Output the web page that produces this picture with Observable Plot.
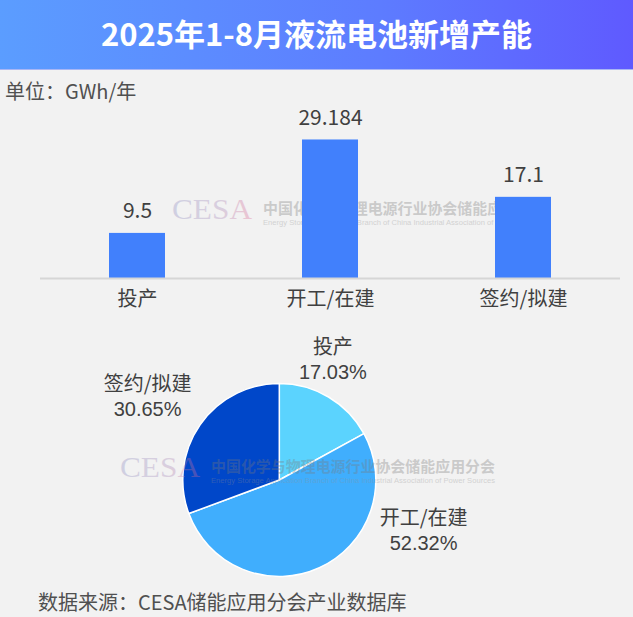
<!DOCTYPE html>
<html>
<head>
<meta charset="utf-8">
<script src="https://cdn.jsdelivr.net/npm/d3@7"></script>
<script src="https://cdn.jsdelivr.net/npm/@observablehq/plot@0.6"></script>
<style>
  html, body { margin: 0; padding: 0; background: #f2f2f2; }
  #root { position: relative; width: 633px; height: 617px; overflow: hidden; background: #f2f2f2;
    font-family: "Noto Sans CJK SC", "Noto Sans", sans-serif; color: #404040; }
  #title { position: absolute; left: 0; top: 0; width: 633px; height: 69px;
    background: linear-gradient(90deg, #5b9dff 0%, #5d7cff 60%, #5f5aff 100%);
    color: #fff; font-weight: bold; font-size: 31px; line-height: 66px; text-align: center;
    box-shadow: 0 1px 0 #a9b6f5; }
  #unit { position: absolute; left: 5px; top: 78px; font-size: 20px; line-height: 26px; color: #505050; }
  #footer { position: absolute; left: 38px; top: 588px; font-size: 20px; line-height: 28px; color: #505050; }
  .abs { position: absolute; left: 0; }
  svg { overflow: visible; }
</style>
</head>
<body>
<div id="root">
  <div id="title">2025年1-8月液流电池新增产能</div>
  <div id="unit">单位：GWh/年</div>
  <div id="wm1" class="abs" style="top:0;z-index:1"></div>
  <div id="bars" class="abs" style="top:100px;z-index:2"></div>
  <div id="pie" class="abs" style="top:320px;z-index:3"></div>
  <div id="wm2" class="abs" style="top:0;z-index:4"></div>
  <div id="footer">数据来源：CESA储能应用分会产业数据库</div>
</div>
<script>
// ---- data ----
const categories = ["投产", "开工/在建", "签约/拟建"];
const capacity = [9.5, 29.184, 17.1];          // GWh/年
const capacityLabels = ["9.5", "29.184", "17.1"];
const pieColors = ["#5bd3fe", "#40aefd", "#0047c9"];
const barColor = "#4180fc";

const rows = categories.map((c, i) => ({category: c, value: capacity[i], label: capacityLabels[i], color: pieColors[i]}));
const total = d3.sum(capacity);

// ---- bar chart ----
const barPlot = Plot.plot({
  width: 633, height: 220,
  marginLeft: 40, marginRight: 13, marginTop: 0, marginBottom: 42,
  style: {background: "transparent", fontFamily: "'Noto Sans CJK SC', 'Noto Sans', sans-serif", overflow: "visible"},
  x: {domain: categories, paddingInner: 0.71, paddingOuter: 0.355, axis: null},
  y: {domain: [0, 37.5], axis: null},
  marks: [
    Plot.barY(rows, {x: "category", y: "value", fill: barColor}),
    Plot.ruleY([0], {stroke: "#d6d6d6", strokeWidth: 2}),
    Plot.text(rows, {x: "category", y: "value", text: "label", dy: -22, fontSize: 21, fill: "#404040"}),
    Plot.text(rows, {x: "category", frameAnchor: "bottom", text: "category", dy: 27, fontSize: 20, fill: "#404040"})
  ]
});
document.getElementById("bars").appendChild(barPlot);

// ---- pie chart ----
// label placement for each slice, in units of the pie radius (layout, not data)
const pieLabelAnchor = {"投产": [0.55, 1.25], "开工/在建": [1.49, -0.52], "签约/拟建": [-1.37, 0.86]};
const arcs = d3.pie().sort(null).value(d => d.value)(rows);
const pieLabels = rows.map(r => ({
  px: pieLabelAnchor[r.category][0], py: pieLabelAnchor[r.category][1],
  name: r.category,
  pct: (r.value / total * 100).toFixed(2) + "%"
}));

const piePlot = Plot.plot({
  width: 633, height: 280,
  marginLeft: 182.8, marginRight: 257.2, marginTop: 63.5, marginBottom: 23.5,
  style: {background: "transparent", fontFamily: "'Noto Sans CJK SC', 'Noto Sans', sans-serif", overflow: "visible"},
  x: {domain: [-1, 1], axis: null},
  y: {domain: [-1, 1], axis: null},
  marks: [
    (index, scales) => {
      const {x, y} = scales;
      const r = x(1) - x(0);
      const g = d3.create("svg:g").attr("transform", `translate(${x(0)},${y(0)})`);
      const arc = d3.arc().innerRadius(0).outerRadius(r);
      g.selectAll("path").data(arcs).join("path")
        .attr("d", arc)
        .attr("fill", d => d.data.color)
        .attr("stroke", "#ffffff")
        .attr("stroke-width", 1.5)
        .attr("stroke-linejoin", "round");
      return g.node();
    },
    Plot.text(pieLabels, {x: "px", y: "py", text: "name", dy: -12.5, fontSize: 20, fill: "#404040"}),
    Plot.text(pieLabels, {x: "px", y: "py", text: "pct", dy: 12.5, fontSize: 20, fill: "#404040",
      fontFamily: "'Liberation Sans', Arial, sans-serif"})
  ]
});
document.getElementById("pie").appendChild(piePlot);

// ---- watermarks ----
function watermark(containerId, ox, oy) {
  const svg = d3.select("#" + containerId).append("svg")
    .attr("width", 633).attr("height", 617)
    .style("position", "absolute").style("left", 0).style("top", 0);
  const gid = "wmgrad" + containerId;
  const grad = svg.append("defs").append("linearGradient").attr("id", gid)
    .attr("x1", "0%").attr("x2", "100%").attr("y1", "0%").attr("y2", "0%");
  grad.append("stop").attr("offset", "0%").attr("stop-color", "#8a8ac0");
  grad.append("stop").attr("offset", "60%").attr("stop-color", "#a888b8");
  grad.append("stop").attr("offset", "100%").attr("stop-color", "#e06890");
  const g = svg.append("g").attr("transform", `translate(${ox},${oy})`).attr("opacity", 0.33);
  g.append("text").attr("x", 0).attr("y", 19).text("CESA")
    .attr("font-family", "'Liberation Serif', 'DejaVu Serif', serif").attr("font-size", 30)
    .attr("textLength", 80).attr("lengthAdjust", "spacingAndGlyphs")
    .attr("fill", `url(#${gid})`);
  g.append("text").attr("x", 91).attr("y", 14).text("中国化学与物理电源行业协会储能应用分会")
    .attr("font-family", "'Noto Sans CJK SC', sans-serif").attr("font-size", 15).attr("font-weight", "bold")
    .attr("textLength", 284).attr("lengthAdjust", "spacingAndGlyphs")
    .attr("fill", "#7a7a7a");
  g.append("text").attr("x", 91).attr("y", 25).text("Energy Storage Application Branch of China Industrial Association of Power Sources")
    .attr("font-family", "'Liberation Sans', Arial, sans-serif").attr("font-size", 7.6)
    .attr("textLength", 284).attr("lengthAdjust", "spacingAndGlyphs")
    .attr("fill", "#909090");
}
watermark("wm1", 172, 200);
watermark("wm2", 120, 458);
</script>
</body>
</html>
